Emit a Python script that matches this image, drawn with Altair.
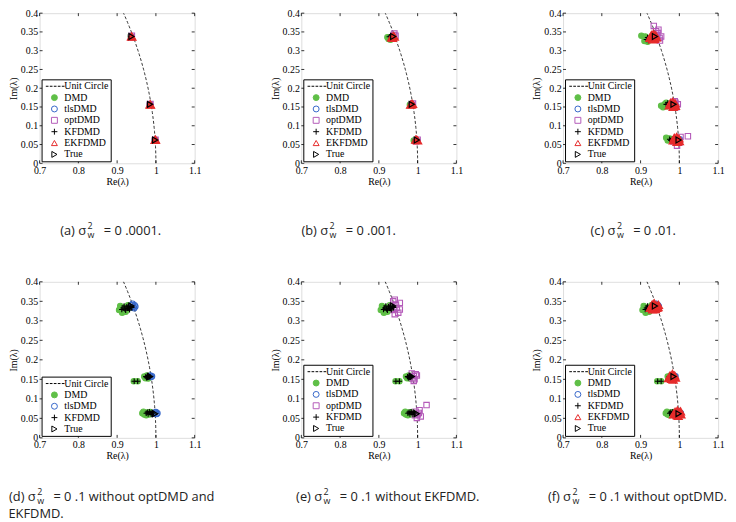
import altair as alt
import pandas as pd

# ---------------- data ----------------
TRUE_EIGS = [(0.937, 0.338), (0.985, 0.157), (0.998, 0.062)]

# (a) sigma^2 = 0.0001
A_DMD = [(0.936, 0.337), (0.935, 0.339), (0.985, 0.156), (0.984, 0.157), (0.997, 0.062), (0.998, 0.061)]
A_TLS = [(0.937, 0.338), (0.985, 0.157), (0.998, 0.062)]
A_OPT = [(0.938, 0.340), (0.936, 0.336), (0.986, 0.158), (0.984, 0.156), (0.999, 0.063), (0.997, 0.061)]
A_KF = [(0.936, 0.338), (0.985, 0.157), (0.998, 0.062)]
A_EKF = [(0.937, 0.338), (0.938, 0.337), (0.985, 0.157), (0.986, 0.156), (0.998, 0.062), (0.999, 0.063)]

# (b) sigma^2 = 0.001
B_DMD = [(0.922, 0.336), (0.925, 0.331), (0.928, 0.334), (0.930, 0.329), (0.980, 0.156), (0.983, 0.158),
         (0.990, 0.061), (0.993, 0.060)]
B_TLS = [(0.935, 0.337), (0.984, 0.157), (0.997, 0.062)]
B_OPT = [(0.940, 0.346), (0.943, 0.340), (0.934, 0.333), (0.938, 0.342), (0.988, 0.159), (0.985, 0.155),
         (1.000, 0.063), (0.996, 0.059)]
B_KF = [(0.927, 0.337), (0.930, 0.339), (0.982, 0.157), (0.994, 0.062)]
B_EKF = [(0.933, 0.336), (0.937, 0.339), (0.935, 0.334), (0.940, 0.337), (0.984, 0.157), (0.987, 0.158),
         (0.982, 0.156), (0.997, 0.062), (1.000, 0.061), (0.995, 0.063)]

# (c) sigma^2 = 0.01
C_DMD = [(0.902, 0.340), (0.910, 0.326), (0.915, 0.335), (0.920, 0.330), (0.912, 0.338), (0.918, 0.324),
         (0.958, 0.149), (0.953, 0.153), (0.962, 0.157), (0.966, 0.161), (0.968, 0.152),
         (0.966, 0.068), (0.972, 0.063), (0.975, 0.066), (0.970, 0.061)]
C_TLS = [(0.940, 0.338), (0.943, 0.335), (0.987, 0.158), (0.990, 0.156), (0.999, 0.062), (1.001, 0.064)]
C_OPT = [(0.934, 0.366), (0.945, 0.347), (0.949, 0.334), (0.953, 0.338), (0.936, 0.330), (0.942, 0.342),
         (0.940, 0.352), (0.950, 0.327), (0.946, 0.356),
         (0.988, 0.165), (0.996, 0.157), (0.992, 0.149), (0.983, 0.153), (0.990, 0.161),
         (1.022, 0.072), (0.994, 0.047), (1.003, 0.070), (0.985, 0.058), (1.000, 0.055)]
C_KF = [(0.915, 0.330), (0.918, 0.335), (0.922, 0.332), (0.925, 0.337), (0.920, 0.327),
        (0.966, 0.157), (0.970, 0.161), (0.975, 0.153), (0.972, 0.156),
        (0.975, 0.064), (0.978, 0.061), (0.982, 0.065), (0.985, 0.062)]
C_EKF = [(0.924, 0.334), (0.928, 0.342), (0.933, 0.345), (0.939, 0.341), (0.941, 0.335), (0.936, 0.331),
         (0.929, 0.336), (0.934, 0.338), (0.938, 0.336), (0.931, 0.330),
         (0.974, 0.154), (0.977, 0.161), (0.983, 0.164), (0.989, 0.160), (0.990, 0.153), (0.984, 0.150),
         (0.979, 0.157), (0.985, 0.156),
         (0.984, 0.061), (0.987, 0.068), (0.993, 0.070), (0.999, 0.066), (1.000, 0.059), (0.994, 0.057),
         (0.989, 0.064), (0.996, 0.063)]

# (d), (e), (f) sigma^2 = 0.1
S_DMD = [(0.905, 0.328), (0.908, 0.338), (0.913, 0.321), (0.918, 0.335), (0.922, 0.323), (0.928, 0.340),
         (0.916, 0.330), (0.926, 0.329), (0.933, 0.334), (0.911, 0.333),
         (0.943, 0.145), (0.953, 0.145), (0.970, 0.157), (0.973, 0.153), (0.977, 0.160), (0.975, 0.155),
         (0.980, 0.152),
         (0.965, 0.063), (0.970, 0.060), (0.968, 0.067), (0.975, 0.058), (0.978, 0.065), (0.982, 0.060),
         (0.985, 0.066)]
S_TLS = [(0.938, 0.340), (0.942, 0.336), (0.945, 0.340), (0.940, 0.344), (0.944, 0.332), (0.947, 0.337),
         (0.936, 0.335),
         (0.986, 0.160), (0.988, 0.156), (0.984, 0.158), (0.990, 0.158),
         (0.996, 0.062), (1.000, 0.066), (1.002, 0.061), (0.998, 0.065), (1.004, 0.063)]
S_OPT = [(0.937, 0.350), (0.941, 0.354), (0.954, 0.346), (0.950, 0.321), (0.933, 0.337), (0.946, 0.333),
         (0.954, 0.329), (0.941, 0.317), (0.944, 0.342), (0.938, 0.328),
         (0.985, 0.165), (0.990, 0.158), (0.998, 0.160), (0.992, 0.150), (0.987, 0.153), (0.995, 0.163),
         (0.990, 0.146),
         (0.995, 0.067), (1.000, 0.060), (1.005, 0.071), (1.008, 0.055), (0.998, 0.051), (1.003, 0.064),
         (0.993, 0.058), (1.023, 0.084)]
S_KF = [(0.915, 0.333), (0.920, 0.330), (0.925, 0.336), (0.930, 0.332), (0.935, 0.337), (0.922, 0.327),
        (0.918, 0.338), (0.932, 0.328), (0.927, 0.333), (0.938, 0.334), (0.912, 0.329), (0.929, 0.338),
        (0.944, 0.145), (0.953, 0.145), (0.974, 0.157), (0.978, 0.158), (0.982, 0.155), (0.980, 0.160),
        (0.985, 0.157), (0.976, 0.154),
        (0.975, 0.063), (0.980, 0.061), (0.985, 0.064), (0.988, 0.060), (0.990, 0.066), (0.983, 0.067),
        (0.993, 0.063), (0.978, 0.066)]
S_EKF = [(0.925, 0.333), (0.930, 0.342), (0.935, 0.345), (0.940, 0.340), (0.945, 0.335), (0.938, 0.330),
         (0.928, 0.338), (0.933, 0.335), (0.942, 0.333), (0.936, 0.340), (0.931, 0.329), (0.946, 0.341),
         (0.972, 0.153), (0.976, 0.160), (0.982, 0.164), (0.988, 0.160), (0.990, 0.154), (0.984, 0.149),
         (0.978, 0.156), (0.986, 0.157), (0.980, 0.151), (0.983, 0.158),
         (0.985, 0.060), (0.989, 0.067), (0.995, 0.070), (1.001, 0.066), (1.004, 0.060), (0.997, 0.056),
         (0.991, 0.063), (0.999, 0.062), (0.994, 0.058), (1.003, 0.068)]

XTICKS = [0.7, 0.8, 0.9, 1.0, 1.1]
YTICKS = [0, 0.05, 0.1, 0.15, 0.2, 0.25, 0.3, 0.35, 0.4]

LEG_ALL = ["Unit Circle", "DMD", "tlsDMD", "optDMD", "KFDMD", "EKFDMD", "True"]
LEG_D = ["Unit Circle", "DMD", "tlsDMD", "KFDMD", "True"]
LEG_E = ["Unit Circle", "DMD", "tlsDMD", "optDMD", "KFDMD", "True"]
LEG_F = ["Unit Circle", "DMD", "tlsDMD", "KFDMD", "EKFDMD", "True"]

# ---------------- styles ----------------
SERIF = "Liberation Serif"
SANS = "Open Sans"
COLORS = {"Unit Circle": "black", "DMD": "#5fbf47", "tlsDMD": "#3566c9", "optDMD": "#b45ab9",
          "KFDMD": "black", "EKFDMD": "#e62b2b", "True": "black"}
FILLS = {"Unit Circle": "transparent", "DMD": "#5fbf47", "tlsDMD": "transparent", "optDMD": "transparent",
         "KFDMD": "transparent", "EKFDMD": "transparent", "True": "transparent"}
SHAPES = {"Unit Circle": "M-2.9,0H-2.0M-1.55,0H-0.65M-0.2,0H0.7M1.15,0H2.05M2.5,0H3.4",
          "DMD": "circle", "tlsDMD": "circle", "optDMD": "square",
          "KFDMD": "M-1,0H1M0,-1V1", "EKFDMD": "triangle-up", "True": "triangle-right"}

W = 157
H_TOP = 152
H_BOT = 158

XSCALE = alt.Scale(domain=[0.7, 1.1], nice=False, zero=False)
YSCALE = alt.Scale(domain=[0, 0.4], nice=False, zero=False)


def axis(values, title, tpad):
    return alt.Axis(values=values, labelExpr="datum.value + ''", ticks=False, tickSize=0, domain=False,
                    grid=False, labelFont=SERIF, labelFontSize=10, labelColor="black", labelPadding=2,
                    labelFlush=False, labelOverlap=False, title=title, titleFont=SERIF, titleFontSize=10,
                    titleFontWeight="normal", titleColor="black", titlePadding=tpad)


def X(field):
    return alt.X(f"{field}:Q", scale=XSCALE, axis=axis(XTICKS, "Re(λ)", 1), title="Re(λ)")


def Y(field):
    return alt.Y(f"{field}:Q", scale=YSCALE, axis=axis(YTICKS, "Im(λ)", 2), title="Im(λ)")


def panel(series, legend_domain, prefix, rest, xs, H, cap_y, line2=None, line2_x=0):
    leg = alt.Legend(orient="bottom-left", title=None, offset=2, padding=2, strokeColor="black",
                     fillColor="white", labelFont=SERIF, labelFontSize=10, labelColor="black",
                     symbolSize=36, symbolStrokeWidth=1, symbolOffset=6, labelOffset=5, rowPadding=1.5,
                     labelExpr="datum.label == 'Unit Circle' ? '\u2002Unit Circle' : datum.label")
    scales = dict(
        shape=alt.Shape("method:N", scale=alt.Scale(domain=legend_domain,
                                                    range=[SHAPES[m] for m in legend_domain]), legend=leg),
        stroke=alt.Stroke("method:N", scale=alt.Scale(domain=legend_domain,
                                                      range=[COLORS[m] for m in legend_domain]), legend=leg),
        fill=alt.Fill("method:N", scale=alt.Scale(domain=legend_domain,
                                                  range=[FILLS[m] for m in legend_domain]), legend=leg),
    )

    def frame(names):
        rows = []
        for name, pts in series:
            if name in names:
                rows += [{"method": name, "re": r, "im": i} for r, i in pts]
        return pd.DataFrame(rows)

    circle = alt.Chart(alt.sequence(0, 0.4101, 0.005, as_="im")).transform_calculate(
        re="sqrt(1 - datum.im * datum.im)"
    ).mark_line(color="black", strokeDash=[3, 2], strokeWidth=0.8, clip=True).encode(
        x=X("re"), y=Y("im"), order="im:Q")

    xt = pd.DataFrame({"xt": XTICKS})
    yt = pd.DataFrame({"yt": YTICKS})
    rk = dict(color="black", strokeWidth=0.8)
    ticks = [
        alt.Chart(xt).mark_rule(**rk).encode(x=X("xt"), y=alt.value(H), y2=alt.value(H - 3)),
        alt.Chart(xt).mark_rule(**rk).encode(x=X("xt"), y=alt.value(0), y2=alt.value(3)),
        alt.Chart(yt).mark_rule(**rk).encode(y=Y("yt"), x=alt.value(0), x2=alt.value(3)),
        alt.Chart(yt).mark_rule(**rk).encode(y=Y("yt"), x=alt.value(W), x2=alt.value(W - 3)),
    ]

    layers = [circle] + ticks
    main = frame(["DMD", "tlsDMD", "optDMD", "KFDMD"])
    layers.append(alt.Chart(main).mark_point(size=30, strokeWidth=1.1, opacity=1).encode(
        x=X("re"), y=Y("im"), **scales))
    ekf = frame(["EKFDMD"])
    if len(ekf):
        layers.append(alt.Chart(ekf).mark_point(size=60, strokeWidth=1.5, opacity=1, fill="#e62b2b",
                                                fillOpacity=0.85).encode(
            x=X("re"), y=Y("im"), shape=scales["shape"], stroke=scales["stroke"]))
    tru = frame(["True"])
    layers.append(alt.Chart(tru).mark_point(size=36, strokeWidth=1.2, opacity=1).encode(
        x=X("re"), y=Y("im"), **scales))

    def txt(t, x, y, align, size):
        return alt.Chart(pd.DataFrame({"t": [t]})).mark_text(
            align=align, baseline="middle", font=SANS, fontSize=size, color="#222"
        ).encode(text="t:N", x=alt.value(x), y=alt.value(y))

    cy = H + cap_y
    layers += [
        txt(prefix, xs, cy, "right", 13),
        txt("2", xs + 1.5, cy - 5, "left", 9),
        txt("w", xs + 1.5, cy + 4, "left", 9),
        txt(rest, xs + 18, cy, "left", 13),
    ]
    if line2:
        layers.append(txt(line2, line2_x, cy + 17, "left", 13))

    return alt.layer(*layers).properties(width=W, height=H)


SER_A = [("DMD", A_DMD), ("tlsDMD", A_TLS), ("optDMD", A_OPT), ("KFDMD", A_KF), ("EKFDMD", A_EKF),
         ("True", TRUE_EIGS)]
SER_B = [("DMD", B_DMD), ("tlsDMD", B_TLS), ("optDMD", B_OPT), ("KFDMD", B_KF), ("EKFDMD", B_EKF),
         ("True", TRUE_EIGS)]
SER_C = [("DMD", C_DMD), ("tlsDMD", C_TLS), ("optDMD", C_OPT), ("KFDMD", C_KF), ("EKFDMD", C_EKF),
         ("True", TRUE_EIGS)]
SER_D = [("DMD", S_DMD), ("tlsDMD", S_TLS), ("KFDMD", S_KF), ("True", TRUE_EIGS)]
SER_E = [("DMD", S_DMD), ("optDMD", S_OPT), ("KFDMD", S_KF), ("True", TRUE_EIGS)]
SER_F = [("DMD", S_DMD), ("tlsDMD", S_TLS), ("KFDMD", S_KF), ("EKFDMD", S_EKF), ("True", TRUE_EIGS)]

pa = panel(SER_A, LEG_ALL, "(a) σ", "= 0 .0001.", 47, H_TOP, 69)
pb = panel(SER_B, LEG_ALL, "(b) σ", "= 0 .001.", 27, H_TOP, 69)
pc = panel(SER_C, LEG_ALL, "(c) σ", "= 0 .01.", 53, H_TOP, 69)
pd_ = panel(SER_D, LEG_D, "(d) σ", "= 0 .1 without optDMD and", -4, H_BOT, 60,
            line2="EKFDMD.", line2_x=-31.5)
pe = panel(SER_E, LEG_E, "(e) σ", "= 0 .1 without EKFDMD.", 21, H_BOT, 60)
pf = panel(SER_F, LEG_F, "(f) σ", "= 0 .1 without optDMD.", 8, H_BOT, 60)

RES = dict(shape="independent", stroke="independent", fill="independent")

chart = alt.concat(pa, pb, pc, pd_, pe, pf, columns=3,
                   spacing=alt.RowColnumber(row=120, column=108), bounds="flush")
chart = chart.resolve_scale(**RES).resolve_legend(**RES)
chart = chart.properties(padding={"top": -4, "left": 0, "right": 0, "bottom": 0}).configure_view(
    stroke="#333", strokeWidth=1).configure(background="white")

chart.save("out.html", embed_options={"renderer": "svg", "actions": False})
